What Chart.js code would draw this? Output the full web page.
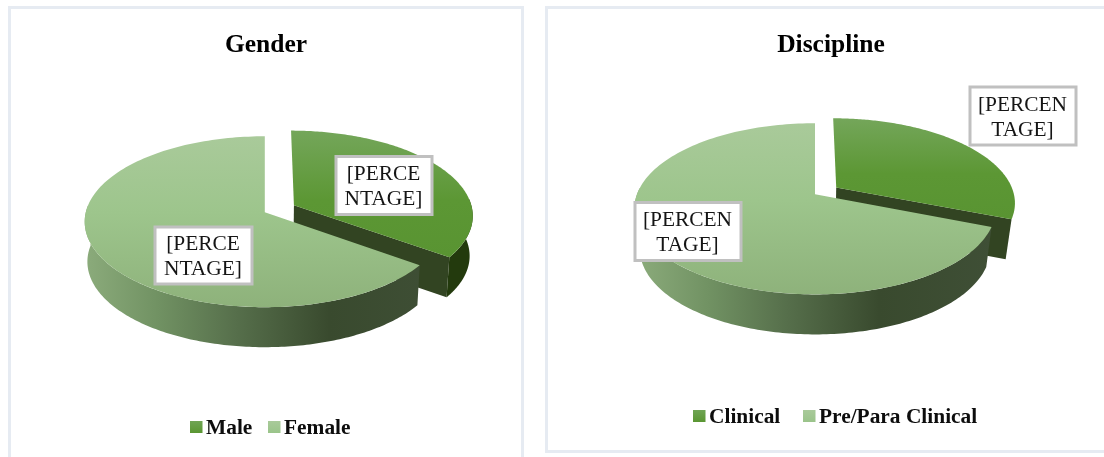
<!DOCTYPE html>
<html>
<head>
<meta charset="utf-8">
<script src="https://cdn.jsdelivr.net/npm/chart.js@4/dist/chart.umd.min.js"></script>
<style>
  html, body { margin: 0; padding: 0; background: #fff; overflow: hidden; }
  body { width: 1104px; height: 457px; position: relative; }
  .panel { position: absolute; box-sizing: border-box; border: 3px solid #e6ebf2; background: #fff; }
  #panelGender { left: 8px; top: 6px; width: 516px; height: 470px; }
  #panelDiscipline { left: 545px; top: 6px; width: 580px; height: 447px; }
  canvas { position: absolute; top: 0; }
</style>
</head>
<body>
<div class="panel" id="panelGender"></div>
<div class="panel" id="panelDiscipline"></div>
<canvas id="gender" style="left:0"></canvas>
<canvas id="discipline" style="left:558px"></canvas>
<script>
// Share of respondents, per cent
const genderTitle = 'Gender';
const genderCategories = ['Male', 'Female'];
const genderValues = [35, 65];

const disciplineTitle = 'Discipline';
const disciplineCategories = ['Clinical', 'Pre/Para Clinical'];
const disciplineValues = [31, 69];

// Data labels keep the unresolved field code, broken where the box wraps it
const genderLabelLines = [['[PERCE', 'NTAGE]'], ['[PERCE', 'NTAGE]']];
const disciplineLabelLines = [['[PERCEN', 'TAGE]'], ['[PERCEN', 'TAGE]']];

const SERIF = '"Liberation Serif", "Times New Roman", serif';
const STEPS = 160;

// Only this span of angles has a wall that faces the viewer
const FRONT_START = -0.08;
const FRONT_END = Math.PI + 0.08;

// Perspective projection of the flat pie onto the page.
// A radial unit (u, v) on the disc, at height z below the top face, lands at project().
function projector(view, el) {
  const cx = el.x + view.shiftX, cy = el.y, R = el.outerRadius;
  return (u, v, z) => {
    const d = 1 + view.perspective * v;
    const k = 1 - view.shrink * z;
    return [cx + R * u / d * k, cy + R * view.squash * v / d + view.depth * z];
  };
}

function tracePath(ctx, pts) {
  ctx.beginPath();
  pts.forEach((p, i) => (i ? ctx.lineTo(p[0], p[1]) : ctx.moveTo(p[0], p[1])));
  ctx.closePath();
}

function rimPoints(project, start, end, du, dv) {
  const a0 = Math.max(start, FRONT_START), a1 = Math.min(end, FRONT_END);
  const top = [], bottom = [];
  for (let i = 0; i <= STEPS; i++) {
    const a = a0 + (a1 - a0) * i / STEPS;
    const u = Math.cos(a) + du, v = Math.sin(a) + dv;
    top.push(project(u, v, 0));
    bottom.unshift(project(u, v, 1));
  }
  return top.concat(bottom);
}

function verticalGradient(ctx, y0, y1, stops) {
  const g = ctx.createLinearGradient(0, y0, 0, y1);
  stops.forEach(s => g.addColorStop(s[0], s[1]));
  return g;
}

const pie3d = {
  id: 'pie3d',
  // The slices are painted here as extruded solids from the arc elements' angles
  beforeDatasetDraw(chart) {
    const { ctx } = chart;
    const view = chart.options.plugins.pie3d;
    const [darkArc, lightArc] = chart.getDatasetMeta(0).data;
    const project = projector(view, darkArc);
    const R = darkArc.outerRadius;

    const offsetOf = arc => {
      const mid = (arc.startAngle + arc.endAngle) / 2;
      const off = (arc.options.offset || 0) / R;
      return [Math.cos(mid) * off, Math.sin(mid) * off];
    };
    const topFace = (arc, du, dv) => {
      const pts = [project(du, dv, 0)];
      for (let i = 0; i <= STEPS; i++) {
        const a = arc.startAngle + (arc.endAngle - arc.startAngle) * i / STEPS;
        pts.push(project(Math.cos(a) + du, Math.sin(a) + dv, 0));
      }
      return pts;
    };

    ctx.save();

    // Exploded slice: outer wall where it shows, cut face, top
    const [du, dv] = offsetOf(darkArc);
    if (view.showOuterWall) {
      tracePath(ctx, rimPoints(project, darkArc.startAngle, darkArc.endAngle, du, dv));
      ctx.fillStyle = '#233a0d';
      ctx.fill();
    }

    const ea = darkArc.endAngle;
    const apexD = [du, dv], edgeD = [Math.cos(ea) + du, Math.sin(ea) + dv];
    tracePath(ctx, [project(apexD[0], apexD[1], 0), project(edgeD[0], edgeD[1], 0),
                    project(edgeD[0], edgeD[1], 1), project(apexD[0], apexD[1], 1)]);
    ctx.fillStyle = '#324422';
    ctx.fill();

    const darkTop = topFace(darkArc, du, dv);
    const dys = darkTop.map(p => p[1]);
    tracePath(ctx, darkTop);
    ctx.fillStyle = verticalGradient(ctx, Math.min(...dys), Math.max(...dys),
      [[0, '#74a65a'], [0.55, '#5c9734'], [1, '#599432']]);
    ctx.fill();

    // Main slice: outer wall with a light falling off to the right, then top
    const xL = project(-1, 0, 0)[0], xR = project(1, 0, 0)[0];
    const wall = ctx.createLinearGradient(xL, 0, xR, 0);
    wall.addColorStop(0, '#8bab7b');
    wall.addColorStop(0.2, '#719263');
    wall.addColorStop(0.42, '#566f4b');
    wall.addColorStop(0.68, '#394a2e');
    wall.addColorStop(1, '#3f4f36');
    tracePath(ctx, rimPoints(project, lightArc.startAngle, lightArc.endAngle, 0, 0));
    ctx.fillStyle = wall;
    ctx.fill();

    const lightTop = topFace(lightArc, 0, 0);
    const lys = lightTop.map(p => p[1]);
    tracePath(ctx, lightTop);
    ctx.fillStyle = verticalGradient(ctx, Math.min(...lys), Math.max(...lys),
      [[0, '#a9ca9a'], [0.45, '#9dc58c'], [1, '#8eb27b']]);
    ctx.fill();

    ctx.restore();
    return false;
  },

  // Boxed data labels and the legend row sit above the solids
  afterDraw(chart) {
    const { ctx } = chart;
    const view = chart.options.plugins.pie3d;
    ctx.save();
    view.labelBoxes.forEach((box, i) => {
      ctx.fillStyle = '#fff';
      ctx.fillRect(box.x, box.y, box.w, box.h);
      ctx.strokeStyle = '#c0c0c0';
      ctx.lineWidth = 3;
      ctx.strokeRect(box.x, box.y, box.w, box.h);
      ctx.fillStyle = '#151515';
      ctx.font = '21.4px ' + SERIF;
      ctx.textAlign = 'center';
      ctx.textBaseline = 'middle';
      view.labelLines[i].forEach((line, j) => {
        ctx.fillText(line, box.x + box.w / 2 - 0.5, box.y + box.h / 2 + 1.5 + (j - 0.5) * 25);
      });
    });

    const swatches = [['#6fa454', '#5a9632'], ['#a9ca9a', '#9ac48a']];
    chart.data.labels.forEach((text, i) => {
      const x = view.legendX[i], y = view.legendY;
      ctx.fillStyle = verticalGradient(ctx, y - 6, y + 6, [[0, swatches[i][0]], [1, swatches[i][1]]]);
      ctx.fillRect(x, y - 6, 12.5, 12);
      ctx.fillStyle = '#0d0d0d';
      ctx.font = 'bold 21.4px ' + SERIF;
      ctx.textAlign = 'left';
      ctx.textBaseline = 'middle';
      ctx.fillText(text, x + 16, y + 1);
    });
    ctx.restore();
  }
};

function makePie(id, width, title, categories, values, explode, bottomPad, radius, view) {
  const canvas = document.getElementById(id);
  canvas.style.width = width + 'px';
  canvas.style.height = '457px';
  canvas.width = width;
  canvas.height = 457;
  return new Chart(canvas, {
    type: 'pie',
    data: {
      labels: categories,
      datasets: [{
        data: values,
        backgroundColor: ['#5a9632', '#9dc58c'],
        borderWidth: 0,
        offset: [explode, 0],
        radius: radius
      }]
    },
    options: {
      responsive: false,
      animation: false,
      layout: { padding: { bottom: bottomPad } },
      plugins: {
        legend: { display: false },
        tooltip: { enabled: false },
        title: {
          display: true,
          text: title,
          color: '#000',
          font: { family: SERIF, size: 25.5, weight: 'bold' },
          padding: { top: 30.5, bottom: 0 }
        },
        pie3d: view
      }
    },
    plugins: [pie3d]
  });
}

makePie('gender', 532, genderTitle, genderCategories, genderValues, 33, 93.6, 179, {
  shiftX: -1.2, perspective: -0.111, squash: 0.4715, depth: 40, shrink: 0.015,
  showOuterWall: true,
  labelLines: genderLabelLines,
  labelBoxes: [{ x: 336, y: 156.5, w: 96, h: 58 }, { x: 155, y: 227, w: 97, h: 57 }],
  legendX: [190, 268], legendY: 427
});

makePie('discipline', 546, disciplineTitle, disciplineCategories, disciplineValues, 26, 129.6, 178, {
  shiftX: -16, perspective: -0.17, squash: 0.467, depth: 40, shrink: 0.03,
  showOuterWall: false,
  labelLines: disciplineLabelLines,
  labelBoxes: [{ x: 412, y: 87, w: 106, h: 58 }, { x: 77, y: 202.5, w: 106, h: 58 }],
  legendX: [135, 245], legendY: 416
});
</script>
</body>
</html>
